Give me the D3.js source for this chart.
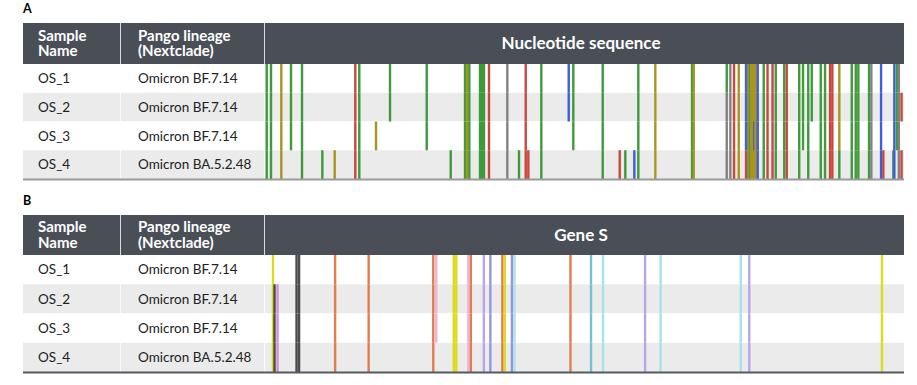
<!DOCTYPE html>
<html>
<head>
<meta charset="utf-8">
<script src="https://cdn.jsdelivr.net/npm/d3@7"></script>
<style>
  body { margin: 0; background: #fff; }
  svg { display: block; font-family: "Lato", "Noto Sans", sans-serif; }
</style>
</head>
<body>
<svg id="chart" width="917" height="385"></svg>
<script>
const samples = ["OS_1", "OS_2", "OS_3", "OS_4"];
const lineages = ["Omicron BF.7.14", "Omicron BF.7.14", "Omicron BF.7.14", "Omicron BA.5.2.48"];
const headers = [["Sample", "Name"], ["Pango lineage", "(Nextclade)"]];

// genome positions of the nucleotide changes, one call per sample ("." = reference)
const genomeLength = 29903;
const ntPos = [80, 281, 763, 1217, 1732, 2682, 3262, 4226, 4413, 5195, 5850, 7568, 8691,
  9360, 9454, 9561, 10062, 10156, 10249, 10483, 11340, 11887, 12201, 12322, 12931, 14213,
  14428, 15804, 16600, 16862, 17283, 17470, 18266, 19984, 20063, 21608, 21776, 21949, 22169,
  22511, 22604, 22651, 22698, 22745, 22792, 22838, 22885, 22899, 22950, 22979, 23058, 23339,
  23517, 23751, 23901, 24299, 24416, 25000, 25178, 25422, 25586, 26007, 26208, 26442, 26550,
  26877, 27458, 27645, 27766, 28267, 28375, 28829, 28936, 29404, 29451, 29568, 29662, 29788];
const ntCalls = ["AAAA", "AAAA", "GGGG", "AAA.", "AAAA", "...A", "...G", "TTTT", "AAAA", "..G.",
  "AA..", "AAA.", "...A", "AAAA", "GGGG", "AAAA", "AAAA", "AAAA", "AAAA", "TTTT", "NNNN", "...A",
  "TTTT", "...T", "AAAA", "CC..", "AAA.", "AAAA", "...T", "...A", "...C", "AAAA", "GGGG", "AAAA",
  "GGGG", "ANNN", "NNNN", "TTTT", "GGGG", "CCCT", "NNNN", "GGGG", "AAAA", "GGGG", "GGGG", "GGGG",
  "GGGG", "..C.", "GGGG", "GGGG", "CCCC", "AAAA", "TTTT", "TTTT", "AAAA", "AAAA", "TTTT", "AAAA",
  "AAA.", "AAAA", "AA..", "AAAA", "AAAA", "TTTT", "TTTT", "GGGA", "AAAA", "AAAA", "AAAA", "AAAA",
  "NNNN", "CCCC", "...T", "...A", "CCCC", "AAA.", "NNNN", ".T.T"];
const ntColors = { A: "#3e9a3a", C: "#3d5fdb", G: "#a8951f", T: "#c9473b", N: "#828282" };

// spike codons with a change, one call per sample
const spikeLength = 1276;
const sPos = [16, 19, 25, 63, 68, 140, 207, 336, 342, 377, 382, 406, 411, 437, 450, 474, 479,
  493, 498, 610, 651, 675, 759, 790, 950, 967, 1232];
const sCalls = ["IIII", ".---", ".SSS", "----", "----", "DDDD", "DDDD", "DDDD", "NNN.", "IIII",
  "IIII", "NNNN", "DDDD", "KKKK", "HHHH", "DDDD", "IIII", "HHHH", "YYYY", "DDDD", "FFFF", "YYYY",
  "KKKK", "YYYY", "YYYY", "KKKK", "IIII"];
const sColors = { I: "#dcdc1e", "-": "#4b4b4b", S: "#d68cd6", D: "#e27b52", N: "#ecb5d3",
  K: "#b9a6ea", H: "#9597dc", Y: "#a6e3e9", F: "#72c3d0" };

const svg = d3.select("#chart");

function drawPanel(opts) {
  const g = svg.append("g");
  const left = 23, right = 904, seqLeft = 265;
  const top = opts.top, headH = opts.headH, rowH = opts.rowH;

  g.append("text")
    .attr("x", 23).attr("y", top - 10)
    .attr("font-size", 12.5).attr("font-weight", 700)
    .text(opts.label);

  const y = d3.scaleBand().domain(samples).range([top + headH, top + headH + rowH * 4]);

  // row backgrounds
  g.selectAll(".row").data(samples).enter().append("rect")
    .attr("x", left).attr("width", right - left)
    .attr("y", d => y(d)).attr("height", y.bandwidth())
    .attr("fill", (d, i) => i % 2 ? "#ebebeb" : "#fff");

  // header
  g.append("rect").attr("x", left).attr("y", top).attr("width", right - left)
    .attr("height", headH).attr("fill", "#4a4f57");

  [120, 264].forEach(cx => {
    g.append("line").attr("x1", cx + 0.5).attr("x2", cx + 0.5)
      .attr("y1", top).attr("y2", top + headH + rowH * 4)
      .attr("stroke", "#fff").attr("stroke-width", 1).attr("opacity", 0.8);
  });

  const hx = [38, 138];
  headers.forEach((lines, i) => {
    const t = g.append("text").attr("x", hx[i]).attr("y", top + headH / 2 - 3)
      .attr("fill", "#fff").attr("font-size", 15).attr("font-weight", 700);
    t.append("tspan").attr("x", hx[i]).text(lines[0]);
    t.append("tspan").attr("x", hx[i]).attr("dy", 15.5).text(lines[1]);
  });

  g.append("text").attr("x", 581).attr("y", top + headH / 2 + 5.5)
    .attr("text-anchor", "middle").attr("fill", "#fff")
    .attr("font-size", 17).attr("font-weight", 700)
    .text(opts.title);

  // body text
  g.selectAll(".name").data(samples).enter().append("text")
    .attr("x", 38).attr("y", d => y(d) + y.bandwidth() / 2 + 4.8)
    .attr("font-size", 13.5).attr("fill", "#222").text(d => d);
  g.selectAll(".lin").data(lineages).enter().append("text")
    .attr("x", 138).attr("y", (d, i) => y(samples[i]) + y.bandwidth() / 2 + 4.8)
    .attr("font-size", 13.5).attr("fill", "#222").text(d => d);

  // mutation ticks
  const x = d3.scaleLinear().domain([0, opts.length]).range([seqLeft, right]);
  const marks = [];
  opts.pos.forEach((p, j) => {
    samples.forEach((s, i) => {
      const c = opts.calls[j][i];
      if (c !== ".") marks.push({ p: p, s: s, c: c });
    });
  });
  g.selectAll(".mut").data(marks).enter().append("rect")
    .attr("x", d => x(d.p) - 1.2).attr("width", 2.4)
    .attr("y", d => y(d.s)).attr("height", y.bandwidth())
    .attr("fill", d => opts.colors[d.c]);

  g.append("rect").attr("x", left).attr("y", top + headH + rowH * 4 - 0.5)
    .attr("width", right - left).attr("height", 2).attr("fill", opts.rule);
}

drawPanel({ label: "A", top: 23, headH: 41, rowH: 28.75, title: "Nucleotide sequence",
  length: genomeLength, pos: ntPos, calls: ntCalls, colors: ntColors, rule: "#9a9a9a" });
drawPanel({ label: "B", top: 215, headH: 40, rowH: 29.25, title: "Gene S",
  length: spikeLength, pos: sPos, calls: sCalls, colors: sColors, rule: "#555a61" });
</script>
</body>
</html>
